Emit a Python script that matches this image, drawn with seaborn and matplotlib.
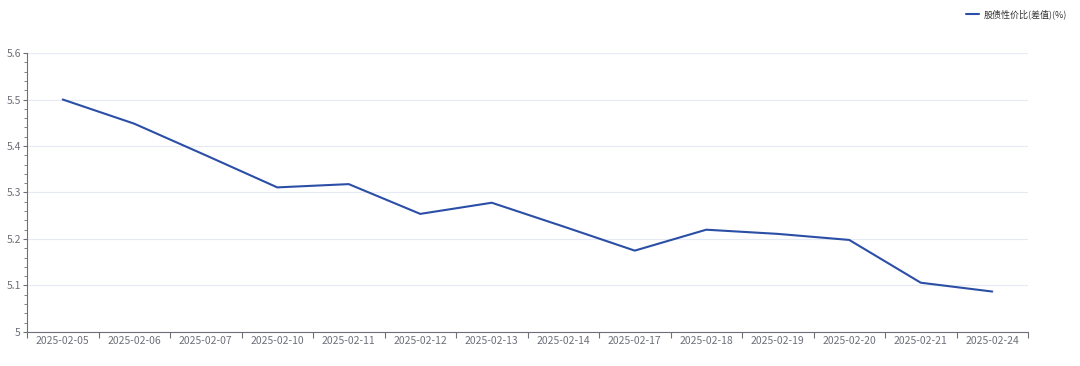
import pandas as pd
import seaborn as sns
import matplotlib.pyplot as plt
from matplotlib.ticker import MultipleLocator, FixedLocator, FuncFormatter

dates = ['2025-02-05', '2025-02-06', '2025-02-07', '2025-02-10', '2025-02-11',
         '2025-02-12', '2025-02-13', '2025-02-14', '2025-02-17', '2025-02-18',
         '2025-02-19', '2025-02-20', '2025-02-21', '2025-02-24']
spread = [5.500, 5.448, 5.380, 5.311, 5.318, 5.254, 5.278, 5.227, 5.175,
          5.220, 5.211, 5.198, 5.106, 5.087]
series_name = '股债性价比(差值)(%)'

df = pd.DataFrame({'date': dates, 'value': spread})
df['pos'] = range(len(dates))

sns.set_style('white')
plt.rcParams['font.family'] = ['Noto Sans CJK SC', 'DejaVu Sans']

fig = plt.figure(figsize=(10.8, 3.66), dpi=100)
ax = fig.add_axes([27 / 1080, 1 - 332 / 366, (1028 - 27) / 1080, (332 - 53) / 366])

sns.lineplot(data=df, x='pos', y='value', ax=ax, color='#2b4ea6', linewidth=1.5,
             label=series_name)

ax.set_xlim(-0.5, len(dates) - 0.5)
ax.set_ylim(5, 5.6)
ax.set_xlabel('')
ax.set_ylabel('')

# category labels centred in bands, ticks on band edges
ax.xaxis.set_major_locator(FixedLocator(list(range(len(dates)))))
ax.set_xticklabels(dates)
ax.xaxis.set_minor_locator(FixedLocator([i - 0.5 for i in range(len(dates) + 1)]))
ax.tick_params(axis='x', which='major', length=0, pad=3, labelsize=7.5, labelcolor='#6e7079')
ax.tick_params(axis='x', which='minor', length=4, width=0.8, color='#6e7079', direction='out')

ax.yaxis.set_major_locator(MultipleLocator(0.1))
ax.yaxis.set_minor_locator(MultipleLocator(0.02))
ax.yaxis.set_major_formatter(FuncFormatter(lambda v, p: f'{v:g}'))
ax.tick_params(axis='y', which='major', length=3, width=0.8, color='#6e7079',
               labelsize=7.5, labelcolor='#6e7079', pad=1.5)
ax.tick_params(axis='y', which='minor', length=2, width=0.6, color='#6e7079')
ax.tick_params(left=True, bottom=True, which='both')

ax.grid(axis='y', which='major', color='#e6eaf4', linewidth=0.8)
ax.set_axisbelow(True)

for side in ['top', 'right']:
    ax.spines[side].set_visible(False)
for side in ['left', 'bottom']:
    ax.spines[side].set_color('#6e7079')
    ax.spines[side].set_linewidth(0.8)

leg = ax.legend(loc='upper right', bbox_to_anchor=(1075 / 1080, 1 - 1 / 366),
                bbox_transform=fig.transFigure, frameon=False, fontsize=6.5,
                handlelength=1.4, handletextpad=0.5)
for t in leg.get_texts():
    t.set_color('#333333')

fig.savefig('out.png', dpi=100)
